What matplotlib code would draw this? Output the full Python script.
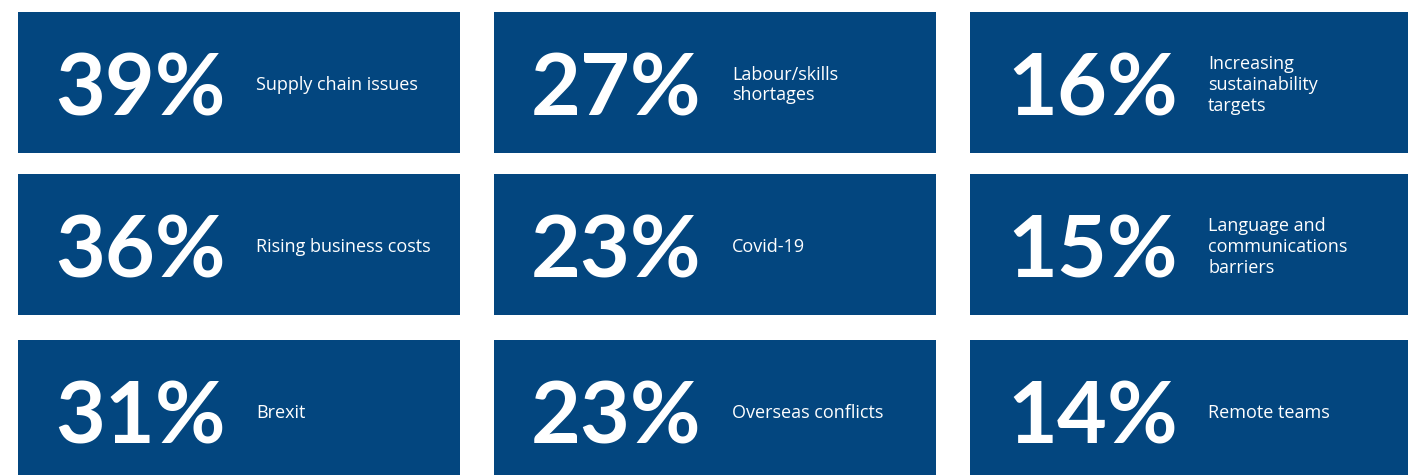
import matplotlib
matplotlib.use("Agg")
import matplotlib.pyplot as plt
from matplotlib.patches import Rectangle

# Data
percentages = [39, 36, 31, 27, 23, 23, 16, 15, 14]
labels = [
    "Supply chain issues",
    "Rising business costs",
    "Brexit",
    "Labour/skills\nshortages",
    "Covid-19",
    "Overseas conflicts",
    "Increasing\nsustainability\ntargets",
    "Language and\ncommunications\nbarriers",
    "Remote teams",
]

# Layout (pixels)
W, H = 1408, 475
col_x = [18, 494, 970]
col_w = [442, 442, 440]
row_y = [12, 174, 340]
tile_h = 141
tile_color = "#03467F"
line_gap = 21

fig = plt.figure(figsize=(W / 100, H / 100), dpi=100)
ax = fig.add_axes([0, 0, 1, 1])
ax.set_xlim(0, W)
ax.set_ylim(H, 0)
ax.axis("off")

for i, (pct, lab) in enumerate(zip(percentages, labels)):
    c, r = divmod(i, 3)
    x0, y0 = col_x[c], row_y[r]
    ax.add_patch(Rectangle((x0, y0), col_w[c], tile_h, facecolor=tile_color,
                           edgecolor="none"))
    ax.text(x0 + 37, y0 + 103, f"{pct}%", color="white", fontsize=62,
            fontweight="bold", family="Lato", va="baseline", ha="left")
    lines = lab.split("\n")
    n = len(lines)
    for k, line in enumerate(lines):
        by = y0 + 78 + (k - (n - 1) / 2) * line_gap
        ax.text(x0 + 238, by, line, color="white", fontsize=13,
                family="Open Sans", va="baseline", ha="left")

fig.savefig("out.png", dpi=100)
